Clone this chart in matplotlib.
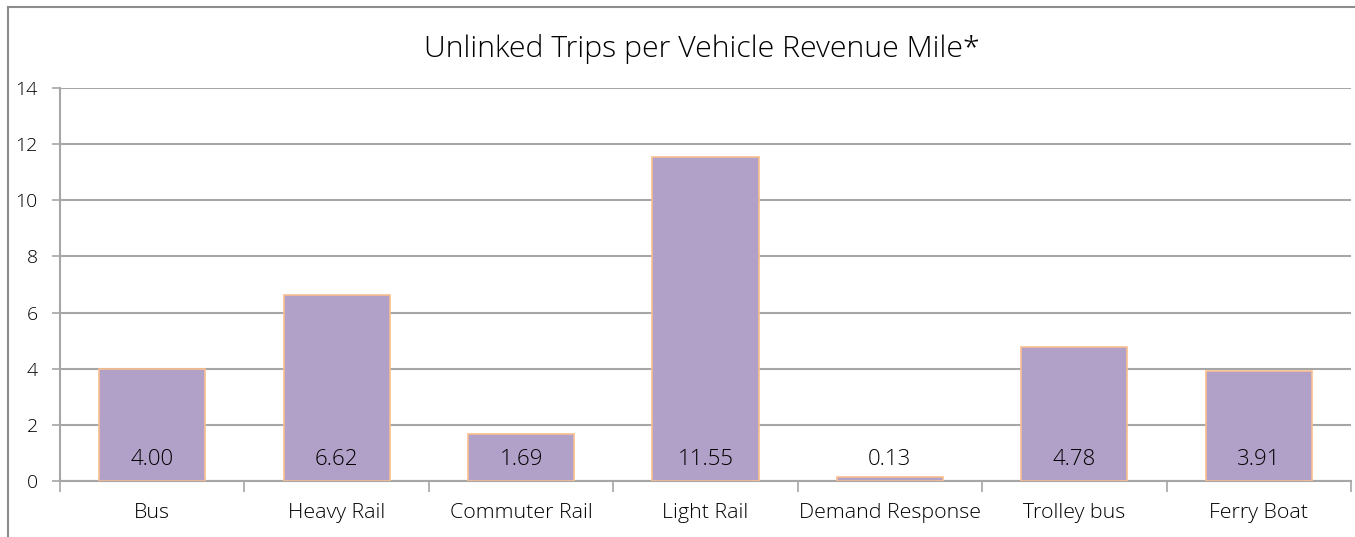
import matplotlib
matplotlib.use("Agg")
import matplotlib.pyplot as plt
from matplotlib.lines import Line2D

categories = ["Bus", "Heavy Rail", "Commuter Rail", "Light Rail",
              "Demand Response", "Trolley bus", "Ferry Boat"]
values = [4.00, 6.62, 1.69, 11.55, 0.13, 4.78, 3.91]
value_labels = ["4.00", "6.62", "1.69", "11.55", "0.13", "4.78", "3.91"]
yticks = [0, 2, 4, 6, 8, 10, 12, 14]
title = "Unlinked Trips per Vehicle Revenue Mile*"

W, H = 1355, 537
plt.rcParams['font.family'] = ['Open Sans', 'Lato', 'DejaVu Sans']
FW = 'light'
fig = plt.figure(figsize=(W / 100, H / 100), dpi=100)
ax = fig.add_axes([60 / W, 1 - 481 / H, (1351 - 60) / W, (481 - 88) / H])

grid_c = '#a6a6a6'
text_c = '#000000'
n = len(categories)
xs = list(range(n))
ax.bar(xs, values, width=0.575, color='#b1a0c7', edgecolor='#f9bf8f',
       linewidth=1.2, zorder=3)
for x, lab in zip(xs, value_labels):
    ax.text(x, 0.76, lab, ha='center', va='center', fontsize=16,
            color=text_c, fontweight=FW, zorder=4)

ax.set_xlim(-0.5, n - 0.5)
ax.set_ylim(0, 14)
ax.set_yticks(yticks)
ax.set_yticklabels([str(v) for v in yticks])
ax.yaxis.grid(True, color=grid_c, linewidth=1.5, zorder=0)
ax.set_axisbelow(True)

ax.set_xticks([i - 0.5 for i in range(n + 1)])
ax.set_xticklabels([])
ax.set_xticks(xs, minor=True)
ax.set_xticklabels(categories, minor=True)
ax.tick_params(axis='x', which='minor', length=0, pad=16, labelsize=15.4,
               labelcolor=text_c)
ax.tick_params(axis='x', which='major', length=8, width=1.2, color=grid_c)
ax.tick_params(axis='y', length=6, width=1.2, color=grid_c, pad=10,
               labelsize=14, labelcolor=text_c)
for lab in ax.get_xticklabels(minor=True) + ax.get_yticklabels():
    lab.set_fontweight(FW)

for s in ['top', 'right']:
    ax.spines[s].set_visible(False)
for s in ['left', 'bottom']:
    ax.spines[s].set_color(grid_c)
    ax.spines[s].set_linewidth(1.5)

fig.text(702 / W, 1 - 49 / H, title, ha='center', va='center',
         fontsize=21.8, color=text_c, fontweight=FW)

# outer chart border (left and top edges visible)
bx = 8 / W
by = 1 - 7 / H
fig.add_artist(Line2D([bx, bx], [0, by], transform=fig.transFigure,
                      color='#8c8c8c', linewidth=1.5))
fig.add_artist(Line2D([bx, 1], [by, by], transform=fig.transFigure,
                      color='#8c8c8c', linewidth=1.5))

fig.savefig("out.png", dpi=100)
